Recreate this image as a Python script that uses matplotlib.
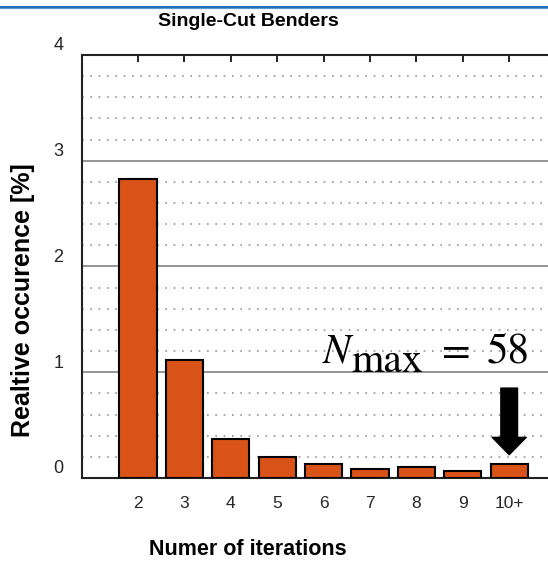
import numpy as np
import matplotlib
matplotlib.use('Agg')
import matplotlib.pyplot as plt
import matplotlib.transforms as mtransforms
from matplotlib.lines import Line2D

# data
categories = ['2', '3', '4', '5', '6', '7', '8', '9', '10+']
occurence = [2.83, 1.12, 0.37, 0.20, 0.13, 0.085, 0.10, 0.07, 0.13]
y_ticks = [0, 1, 2, 3, 4]
n_max = 58

plt.rcParams['font.family'] = ['Liberation Sans', 'DejaVu Sans']
plt.rcParams['mathtext.fontset'] = 'stix'

fig = plt.figure(figsize=(5.48, 5.67), dpi=100)
ax = fig.add_axes([0.1496, 0.157, 0.9066, 0.746])

x = np.arange(len(categories))
ax.bar(x, occurence, width=0.8, color='#D95319', edgecolor='black', linewidth=1.5, zorder=3)

ax.set_xlim(-1.207, 9.5)
ax.set_ylim(0, 4)

# grid: solid major lines, dotted minor lines
ax.set_yticks(y_ticks)
ax.set_yticks(np.arange(0.2, 4.0, 0.2), minor=True)
ax.grid(axis='y', which='major', color='#8c8c8c', linewidth=1.3, zorder=0)
ax.grid(axis='y', which='minor', color='#959595', linestyle=(0, (1, 4)), linewidth=1.2, zorder=0)

ax.set_xticks(x)
ax.set_xticklabels(categories, fontsize=12.5, color='#262626')
ax.set_yticklabels([str(t) for t in y_ticks], fontsize=13, color='#262626')
ax.tick_params(axis='x', which='both', bottom=False, top=True, direction='in',
               length=5, width=1.2, pad=13)
ax.tick_params(axis='y', which='both', left=False, right=False, pad=10)
offset = mtransforms.ScaledTranslation(0, 8 / 72, fig.dpi_scale_trans)
for lbl in ax.get_yticklabels():
    lbl.set_transform(lbl.get_transform() + offset)

for side in ['top', 'left', 'bottom']:
    ax.spines[side].set_linewidth(1.5)
    ax.spines[side].set_color('#222222')
ax.spines['right'].set_visible(False)

fig.text(248 / 548, 1 - 21 / 567, 'Single-Cut Benders', fontsize=14, fontweight='bold',
         ha='center', va='center')
ax.set_ylabel('Realtive occurence [%]', fontsize=18, fontweight='bold')
ax.yaxis.set_label_coords(-0.095, 0.42)
ax.set_xlabel('Numer of iterations', fontsize=15.5, fontweight='bold')
ax.xaxis.set_label_coords(0.334, -0.145)

# N_max = 58 annotation, built from pieces to mimic the equation look
ax.text(3.966, 1.0875, r'$N$', fontsize=30, ha='left', va='baseline', zorder=5)
ax.text(4.59, 1.0, 'max', fontsize=30, family='STIXGeneral', ha='left', va='baseline', zorder=5)
ax.text(6.55, 1.0875, '=', fontsize=30, family='STIXGeneral', ha='left', va='baseline', zorder=5)
ax.text(8.45, 1.0875, str(n_max), fontsize=31, family='STIXGeneral',
        ha='right', va='baseline', zorder=5)
ax.annotate('', xy=(8, 0.22), xytext=(8, 0.85),
            arrowprops=dict(arrowstyle='simple,head_length=1.25,head_width=2.45,tail_width=1.2',
                            color='black', mutation_scale=10, shrinkA=0, shrinkB=0),
            zorder=5)

# blue rule at the top of the picture
fig.add_artist(Line2D([0, 1], [0.9875, 0.9875], color='#1f6db5', linewidth=2.2))
fig.add_artist(Line2D([0, 1], [0.9855, 0.9855], color='#5b9bd5', linewidth=0.8))

plt.savefig('out.png', dpi=100)
